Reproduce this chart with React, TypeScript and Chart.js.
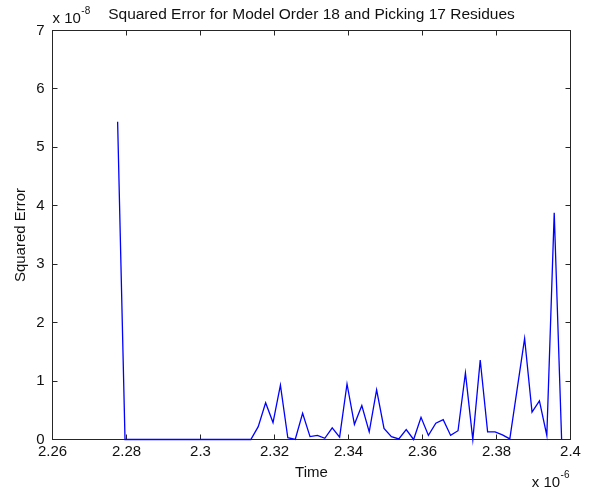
import React, { useEffect, useRef } from "react";
import { Chart, registerables } from "chart.js";

Chart.register(...registerables);

// Time in units of 1e-6 s
const timeValues = [
  2.2776, 2.2796, 2.2816, 2.2836, 2.2856, 2.2876, 2.2896, 2.2916, 2.2936, 2.2956,
  2.2976, 2.2996, 2.3016, 2.3036, 2.3056, 2.3076, 2.3096, 2.3116, 2.3136, 2.3156,
  2.3176, 2.3196, 2.3216, 2.3236, 2.3256, 2.3276, 2.3296, 2.3316, 2.3336, 2.3356,
  2.3376, 2.3396, 2.3416, 2.3436, 2.3456, 2.3476, 2.3496, 2.3516, 2.3536, 2.3556,
  2.3576, 2.3596, 2.3616, 2.3636, 2.3656, 2.3676, 2.3696, 2.3716, 2.3736, 2.3756,
  2.3776, 2.3796, 2.3816, 2.3836, 2.3856, 2.3876, 2.3896, 2.3916, 2.3936, 2.3956,
  2.3976,
];

// Squared error in units of 1e-8
const squaredError = [
  5.44, 0, 0, 0, 0, 0, 0, 0, 0, 0,
  0, 0, 0, 0, 0, 0, 0, 0, 0, 0.22,
  0.63, 0.29, 0.93, 0.03, 0.0, 0.45, 0.05, 0.07, 0.02, 0.2,
  0.04, 0.95, 0.26, 0.58, 0.13, 0.85, 0.19, 0.05, 0.01, 0.17,
  0.0, 0.38, 0.07, 0.28, 0.34, 0.07, 0.15, 1.14, 0.0, 1.36,
  0.13, 0.13, 0.08, 0.01, 0.87, 1.73, 0.47, 0.66, 0.07, 3.88,
  0.0,
];

const xTickValues = [2.26, 2.28, 2.3, 2.32, 2.34, 2.36, 2.38, 2.4];
const yTickValues = [0, 1, 2, 3, 4, 5, 6, 7];

const chartTitle = "Squared Error for Model Order 18 and Picking 17 Residues";
const xAxisTitle = "Time";
const yAxisTitle = "Squared Error";
const xExponent = "-6";
const yExponent = "-8";

const FONT = "'Liberation Sans', Arial, Helvetica, sans-serif";
const TEXT_COLOR = "#111111";

const matlabAxes = {
  id: "matlabAxes",
  beforeDatasetsDraw(chart: any) {
    const { ctx, chartArea: a, scales } = chart;
    ctx.save();
    ctx.strokeStyle = "#262626";
    ctx.lineWidth = 1;
    ctx.strokeRect(a.left, a.top, a.right - a.left, a.bottom - a.top);
    const len = 5;
    ctx.beginPath();
    scales.x.ticks.forEach((t: any) => {
      const px = Math.round(scales.x.getPixelForValue(t.value) - 0.5) + 0.5;
      ctx.moveTo(px, a.bottom);
      ctx.lineTo(px, a.bottom - len);
      ctx.moveTo(px, a.top);
      ctx.lineTo(px, a.top + len);
    });
    scales.y.ticks.forEach((t: any) => {
      const py = Math.round(scales.y.getPixelForValue(t.value) - 0.5) + 0.5;
      ctx.moveTo(a.left, py);
      ctx.lineTo(a.left + len, py);
      ctx.moveTo(a.right, py);
      ctx.lineTo(a.right - len, py);
    });
    ctx.stroke();
    ctx.restore();
  },
  afterDraw(chart: any) {
    const { ctx, chartArea: a } = chart;
    ctx.save();
    ctx.fillStyle = TEXT_COLOR;
    ctx.textBaseline = "alphabetic";
    ctx.textAlign = "left";
    // y exponent (top-left)
    ctx.font = `15px ${FONT}`;
    const base = "x 10";
    const wBase = ctx.measureText(base).width;
    ctx.fillText(base, a.left, a.top - 8);
    ctx.font = `10px ${FONT}`;
    ctx.fillText(yExponent, a.left + wBase + 0.5, a.top - 17);
    // x exponent (bottom-right)
    const wSup = ctx.measureText(xExponent).width;
    const startX = a.right - wBase - wSup - 1.5;
    ctx.font = `15px ${FONT}`;
    ctx.fillText(base, startX, a.bottom + 47.5);
    ctx.font = `10px ${FONT}`;
    ctx.fillText(xExponent, startX + wBase + 0.5, a.bottom + 38);
    ctx.restore();
  },
};

export default function App() {
  const canvasRef = useRef<HTMLCanvasElement | null>(null);

  useEffect(() => {
    document.body.style.margin = "0";
    const canvas = canvasRef.current;
    if (!canvas) return;
    const chart = new Chart(canvas, {
      type: "line",
      data: {
        datasets: [
          {
            data: timeValues.map((t, i) => ({ x: t, y: squaredError[i] })),
            borderColor: "#0000ff",
            borderWidth: 1.3,
            pointRadius: 0,
            tension: 0,
            fill: false,
            clip: false as any,
          },
        ],
      },
      options: {
        responsive: false,
        animation: false,
        devicePixelRatio: 1,
        layout: { padding: { left: 0, right: 21.5, top: 0, bottom: 0 } },
        plugins: {
          legend: { display: false },
          tooltip: { enabled: false },
          title: {
            display: true,
            text: chartTitle,
            fullSize: false,
            color: TEXT_COLOR,
            font: { family: FONT, size: 15.5, weight: "normal" as any, lineHeight: 1.2 },
            padding: { top: 5, bottom: 6.9 },
          },
        },
        scales: {
          x: {
            type: "linear",
            min: 2.26,
            max: 2.4,
            afterBuildTicks: (s: any) => {
              s.ticks = xTickValues.map((value) => ({ value }));
            },
            afterFit: (s: any) => {
              s.height = 50.5;
            },
            grid: { display: false, drawTicks: false },
            border: { display: false },
            ticks: {
              autoSkip: false,
              maxRotation: 0,
              padding: 3.5,
              color: TEXT_COLOR,
              font: { family: FONT, size: 15 },
              callback: (v: any) => String(parseFloat(Number(v).toFixed(2))),
            },
            title: {
              display: true,
              text: xAxisTitle,
              color: TEXT_COLOR,
              font: { family: FONT, size: 15, lineHeight: 1.2 },
              padding: { top: 0, bottom: 8 },
            },
          },
          y: {
            type: "linear",
            min: 0,
            max: 7,
            afterBuildTicks: (s: any) => {
              s.ticks = yTickValues.map((value) => ({ value }));
            },
            afterFit: (s: any) => {
              s.width = 52.5;
            },
            grid: { display: false, drawTicks: false },
            border: { display: false },
            ticks: {
              autoSkip: false,
              padding: 8,
              color: TEXT_COLOR,
              font: { family: FONT, size: 15 },
              callback: (v: any) => String(v),
            },
            title: {
              display: true,
              text: yAxisTitle,
              color: TEXT_COLOR,
              font: { family: FONT, size: 15, lineHeight: 1.2 },
              padding: { top: 12, bottom: 0 },
            },
          },
        },
      },
      plugins: [matlabAxes],
    });
    return () => chart.destroy();
  }, []);

  return (
    <div style={{ width: 592, height: 490, background: "#ffffff" }}>
      <canvas ref={canvasRef} width={592} height={490} style={{ display: "block" }} />
    </div>
  );
}
